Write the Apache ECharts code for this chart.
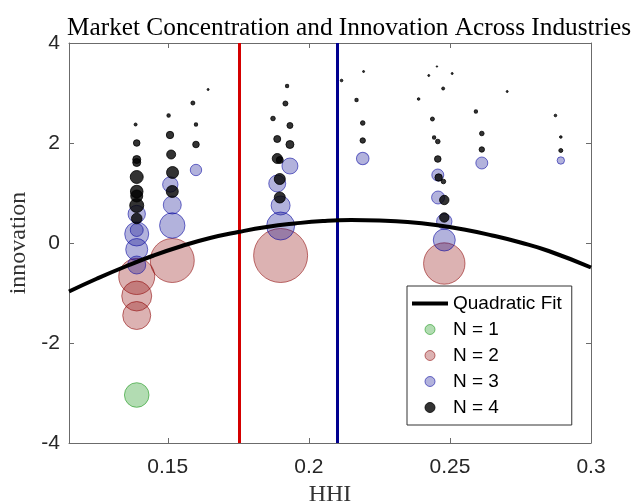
<!DOCTYPE html>
<html>
<head>
<meta charset="utf-8">
<script src="https://cdn.jsdelivr.net/npm/echarts@6/dist/echarts.min.js"></script>
<style>html,body{margin:0;padding:0;background:#fff}#chart{width:633px;height:504px}</style>
</head>
<body>
<div id="chart"></div>
<script>
// ---- data ----
const xTickValues = [0.15, 0.2, 0.25, 0.3];
const xTickLabels = ['0.15', '0.2', '0.25', '0.3'];
const yTickLabels = ['-4', '-2', '0', '2', '4'];

// vertical reference lines (HHI thresholds)
const redLineX = 0.1753;
const blueLineX = 0.2101;

// quadratic fit
const fitX = [0.115, 0.125, 0.135, 0.145, 0.155, 0.165, 0.175, 0.185, 0.195, 0.205, 0.215, 0.225, 0.235, 0.245, 0.255, 0.265, 0.275, 0.285, 0.3];
const fitY = [-0.97, -0.71, -0.47, -0.25, -0.06, 0.10, 0.22, 0.32, 0.39, 0.44, 0.46, 0.45, 0.42, 0.36, 0.27, 0.15, 0.01, -0.16, -0.49];

// N = 1
const n1X = [0.1390];
const n1Y = [-3.04];
const n1W = [12.3];

// N = 2
const n2X = [0.1390, 0.1390, 0.1390, 0.1516, 0.1900, 0.2480];
const n2Y = [-0.67, -1.06, -1.45, -0.35, -0.25, -0.41];
const n2W = [18, 15, 14, 22, 27, 20.7];

// N = 3
const n3X = [0.1390, 0.1390, 0.1390, 0.1390, 0.1390, 0.1509, 0.1516, 0.1516, 0.1600, 0.1933, 0.1888, 0.1900, 0.1900, 0.2191, 0.2457, 0.2458, 0.2480, 0.2480, 0.2613, 0.2893];
const n3Y = [0.58, 0.26, 0.18, -0.13, -0.44, 1.17, 0.76, 0.35, 1.46, 1.54, 1.19, 0.75, 0.34, 1.69, 1.36, 0.91, 0.43, 0.06, 1.60, 1.65];
const n3W = [8.7, 6.5, 12, 11, 9, 7.7, 9, 12.7, 5.7, 8, 8.5, 9.5, 14, 6.3, 6, 6.5, 7.7, 11, 6, 3.7];

// N = 4
const n4X = [0.1386, 0.1390, 0.1390, 0.1390, 0.1390, 0.1390, 0.1390, 0.1390, 0.1390,
             0.1503, 0.1508, 0.1512, 0.1517, 0.1516,
             0.1589, 0.1600, 0.1600, 0.1643,
             0.1923, 0.1917, 0.1873, 0.1933, 0.1888, 0.1933, 0.1888, 0.1897, 0.1897, 0.1897,
             0.2116, 0.2194, 0.2169, 0.2191, 0.2191,
             0.2454, 0.2425, 0.2508, 0.2476, 0.2389, 0.2438, 0.2444, 0.2457, 0.2457, 0.2460, 0.2477, 0.2480, 0.2480,
             0.2592, 0.2613, 0.2613, 0.2703, 0.2874, 0.2893, 0.2893];
const n4Y = [2.37, 2.00, 1.67, 1.61, 1.32, 1.03, 0.94, 0.75, 0.49,
             2.55, 2.16, 1.77, 1.41, 1.03,
             2.80, 2.37, 1.97, 3.07,
             3.14, 2.79, 2.49, 2.35, 2.08, 1.97, 1.69, 1.66, 1.28, 0.91,
             3.25, 3.43, 2.86, 2.40, 2.05,
             3.53, 3.35, 3.39, 3.09, 2.88, 2.48, 2.11, 2.03, 1.68, 1.31, 1.23, 0.86, 0.51,
             2.63, 2.19, 1.87, 3.03, 2.55, 2.12, 1.85];
const n4W = [1.5, 3.3, 4, 4, 6.5, 6.3, 6, 7, 5.3,
             1.7, 3.7, 4.5, 6, 6,
             2, 1.7, 3.3, 1,
             1.7, 2.5, 2.3, 3, 3.5, 4, 5, 3.5, 5.5, 5.5,
             1.3, 1, 1.7, 2.3, 2.7,
             0.7, 1, 1, 1.5, 1.3, 2, 1.7, 2.3, 3.3, 3.7, 2.3, 4.7, 4.7,
             1.7, 2.3, 2.7, 1, 1.3, 1.3, 2];

// ---- chart ----
const zip = (xs, ys, ws) => xs.map((x, i) => ws ? [x, ys[i], ws[i]] : [x, ys[i]]);
const sizeFn = v => 2 * v[2];
const sansFont = 'Liberation Sans, Arial, Helvetica, sans-serif';
const serifFont = 'Liberation Serif, Times New Roman, serif';
const axisColor = '#6b6b6b';

function scatterSeries(name, xs, ys, ws, fill, border, z) {
  return {
    name, type: 'scatter', xAxisIndex: 0, yAxisIndex: 0,
    data: zip(xs, ys, ws), symbol: 'circle', symbolSize: sizeFn, z,
    itemStyle: { color: fill, borderColor: border, borderWidth: 1, opacity: 1 },
    emphasis: { disabled: true }
  };
}

const chart = echarts.init(document.getElementById('chart'), null, { renderer: 'canvas' });
chart.setOption({
  animation: false,
  backgroundColor: '#fff',
  title: {
    text: 'Market Concentration and Innovation Across Industries',
    left: 62, top: 11,
    textStyle: { fontFamily: serifFont, fontSize: 25.3, fontWeight: 'normal', color: '#000' }
  },
  grid: { left: 69, right: 42, top: 43, bottom: 61, containLabel: false, outerBoundsMode: 'none' },
  xAxis: [{
    type: 'value', position: 'bottom', min: 0.115, max: 0.3,
    name: 'HHI', nameLocation: 'middle', nameGap: 37,
    nameTextStyle: { fontFamily: serifFont, fontSize: 24, color: '#333' },
    axisLine: { show: true, onZero: false, lineStyle: { color: axisColor, width: 1 } },
    axisTick: { show: true, inside: true, length: 5, customValues: xTickValues, lineStyle: { color: axisColor } },
    axisLabel: { show: true, margin: 14, customValues: xTickValues,
      formatter: v => xTickLabels[xTickValues.findIndex(t => Math.abs(t - v) < 1e-9)] ?? '',
      fontFamily: sansFont, fontSize: 21, color: '#262626' },
    splitLine: { show: false }
  }, {
    type: 'value', position: 'top', min: 0.115, max: 0.3,
    axisLine: { show: true, onZero: false, lineStyle: { color: axisColor, width: 1 } },
    axisTick: { show: true, inside: true, length: 5, customValues: xTickValues, lineStyle: { color: axisColor } },
    axisLabel: { show: false }, splitLine: { show: false }
  }],
  yAxis: [{
    type: 'value', position: 'left', min: -4, max: 4, interval: 2,
    name: 'innovation', nameLocation: 'middle', nameGap: 28, nameRotate: 90,
    nameTextStyle: { fontFamily: serifFont, fontSize: 24, color: '#333' },
    axisLine: { show: true, onZero: false, lineStyle: { color: axisColor, width: 1 } },
    axisTick: { show: true, inside: true, length: 5, lineStyle: { color: axisColor } },
    axisLabel: { show: true, margin: 9,
      formatter: v => yTickLabels[Math.round((v + 4) / 2)] ?? '',
      fontFamily: sansFont, fontSize: 21, color: '#262626' },
    splitLine: { show: false }
  }, {
    type: 'value', position: 'right', min: -4, max: 4, interval: 2,
    axisLine: { show: true, onZero: false, lineStyle: { color: axisColor, width: 1 } },
    axisTick: { show: true, inside: true, length: 5, lineStyle: { color: axisColor } },
    axisLabel: { show: false }, splitLine: { show: false }
  }],
  legend: {
    orient: 'vertical', left: 407, top: 286,
    padding: [8, 10, 8, 5],
    backgroundColor: '#fff', borderColor: '#333', borderWidth: 1, borderRadius: 0,
    itemWidth: 36, itemHeight: 10, itemGap: 7,
    textStyle: { fontFamily: sansFont, fontSize: 19, lineHeight: 19, color: '#000' },
    itemStyle: { borderWidth: 1 },
    selectedMode: false,
    data: [
      { name: 'Quadratic Fit', icon: 'path://M0 0H36V4H0Z', itemStyle: { color: '#000', borderWidth: 0 } },
      'N = 1', 'N = 2', 'N = 3', 'N = 4'
    ]
  },
  series: [
    scatterSeries('N = 1', n1X, n1Y, n1W, 'rgba(0,140,0,0.3)', 'rgba(0,140,0,0.5)', 2),
    scatterSeries('N = 2', n2X, n2Y, n2W, 'rgba(140,0,0,0.3)', 'rgba(140,0,0,0.55)', 3),
    scatterSeries('N = 3', n3X, n3Y, n3W, 'rgba(0,0,140,0.3)', 'rgba(0,0,160,0.55)', 4),
    scatterSeries('N = 4', n4X, n4Y, n4W, 'rgba(0,0,0,0.8)', 'rgba(0,0,0,0.8)', 5),
    {
      name: 'Quadratic Fit', type: 'line', data: zip(fitX, fitY), smooth: true,
      showSymbol: false, symbol: 'none', z: 6,
      lineStyle: { color: '#000', width: 4 }, itemStyle: { color: '#000' },
      emphasis: { disabled: true }
    },
    {
      name: 'thresholds', type: 'line', data: [], z: 7,
      markLine: {
        silent: true, precision: 5, symbol: ['none', 'none'], label: { show: false },
        data: [
          { xAxis: redLineX, lineStyle: { color: '#d40000', width: 3, type: 'solid' } },
          { xAxis: blueLineX, lineStyle: { color: '#00008f', width: 3, type: 'solid' } }
        ]
      }
    }
  ]
});
</script>
</body>
</html>
